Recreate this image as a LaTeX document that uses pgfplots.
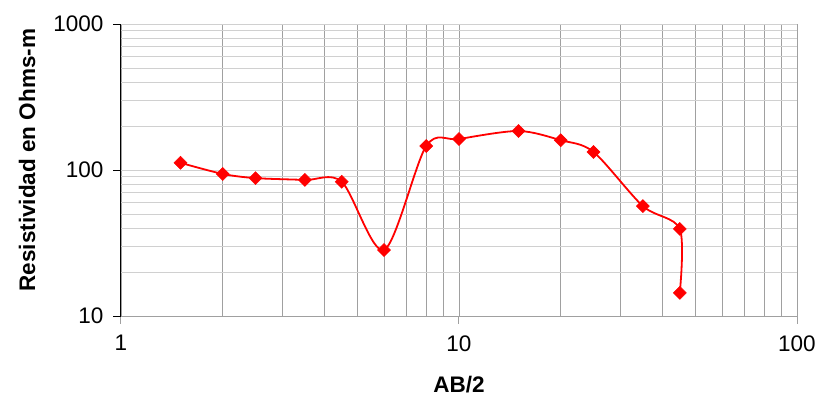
\documentclass[border=0pt]{standalone}
\usepackage{pgfplots}
\pgfplotsset{compat=1.18}
\usepackage{fontspec}
\setmainfont{Liberation Sans}
\definecolor{vgrid}{HTML}{A0A0A0}
\definecolor{hgrid}{HTML}{D0D0D0}
\begin{document}
\begin{tikzpicture}
\begin{axis}[
  scale only axis,
  width=676pt, height=292pt,
  xmode=log, ymode=log,
  xmin=1, xmax=100, ymin=10, ymax=1000,
  axis lines*=left,
  x axis line style={color=vgrid, line width=1pt},
  y axis line style={color=black, line width=1pt},
  xtick={1,10,100}, xticklabels={1,10,100},
  ytick={10,100,1000}, yticklabels={10,100,1000},
  tick align=outside,
  major tick length=8pt,
  minor tick length=0pt,
  x tick style={color=vgrid, line width=1pt},
  y tick style={color=black, line width=1pt},
  grid=both,
  major x grid style={color=vgrid, line width=0.9pt},
  minor x grid style={color=vgrid, line width=0.9pt},
  major y grid style={color=hgrid, line width=0.9pt},
  minor y grid style={color=hgrid, line width=0.9pt},
  ticklabel style={font=\fontsize{22.5}{26}\selectfont, text=black},
  xticklabel style={yshift=-8pt},
  yticklabel style={xshift=-6pt},
  clip=false,
]
\addplot[red, line width=1.8pt, smooth, tension=0.5, mark=square*, mark size=4.6pt,
  mark options={rotate=45, solid, fill=red, draw=red, line width=0.5pt}]
  coordinates {
  (1.5,112) (2,94) (2.5,88) (3.5,85.5) (4.5,83) (6,28.3) (8,146) (10,163)
  (15,185) (20,160) (25,133) (35,56.6) (45,39.5) (45,14.4)
  };
\node[rotate=90, anchor=center, font=\fontsize{22.5}{26}\selectfont\bfseries]
  at (axis description cs:-0.139,0.534) {Resistividad en Ohms-m};
\node[anchor=center, font=\fontsize{22.5}{26}\selectfont\bfseries]
  at (axis description cs:0.5,-0.236) {AB/2};
\path[use as bounding box] (axis description cs:0,0) ++(-121pt,-84pt) rectangle ++(820pt,400pt);
\end{axis}
\end{tikzpicture}
\end{document}
